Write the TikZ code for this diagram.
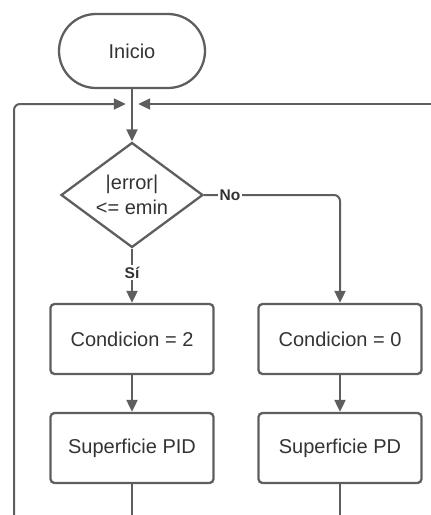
\documentclass[tikz,border=0pt]{standalone}
\usepackage{fontspec}
\setmainfont{Liberation Sans}
\usepackage{xcolor}
\usetikzlibrary{shapes.geometric, arrows.meta, positioning}
\definecolor{flowgray}{HTML}{5E5E5E}
\definecolor{textdark}{HTML}{333333}

\begin{document}
\begin{tikzpicture}[
    x=1pt, y=-1pt,
    every node/.style={font=\fontsize{20}{25}\selectfont, text=textdark},
    startbox/.style={
        rectangle,
        rounded corners=37pt,
        draw=flowgray,
        line width=2.3pt,
        minimum width=146pt,
        minimum height=74pt
    },
    box/.style={
        rectangle,
        rounded corners=4pt,
        draw=flowgray,
        line width=2.3pt,
        minimum width=163pt,
        minimum height=70pt,
        text centered
    },
    decision/.style={
        diamond,
        aspect=1.35,
        inner sep=0pt,
        draw=flowgray,
        line width=2.3pt,
        minimum width=142pt,
        minimum height=105pt,
        align=center
    },
    flow/.style={
        -{Triangle[length=12pt, width=11pt]},
        line width=2pt,
        draw=flowgray,
        rounded corners=6pt
    },
    plain/.style={
        line width=2pt,
        draw=flowgray
    },
    mylabel/.style={
        font=\fontsize{15.5}{17}\selectfont\bfseries,
        fill=white,
        inner sep=1.5pt
    }
]
\useasboundingbox (0,0) rectangle (431,515);

% Start and decision
\node[startbox] (inicio) at (132,51) {Inicio};
\node[decision] (cond) at (132,195) {|error|\\<= emin};
\node[minimum size=12pt, inner sep=0pt] (junc) at (132,104) {};

% Branch boxes
\node[box] (cdos) at (132,339) {Condicion = 2};
\node[box] (ccero) at (340,339) {Condicion = 0};
\node[box] (pid) at (132,448) {Superficie PID};
\node[box] (pd) at (340,448) {Superficie PD};

% Loose ends at the picture border
\coordinate (loopl) at (14,515);
\coordinate (loopr) at (431,104);
\coordinate (endl) at (132,515);
\coordinate (endr) at (340,515);

% Arrows - main flow
\draw[flow] (inicio) -- (cond);
\draw[flow] (cond.south) -- node[mylabel, pos=0.44] {Sí} (cdos);
\draw[flow] (cond.east) -| node[mylabel, pos=0.095] {No} (ccero);
\draw[flow] (cdos) -- (pid);
\draw[flow] (ccero) -- (pd);

% Loop back
\draw[flow] (loopl) |- (junc.west);
\draw[flow] (loopr) -- (junc.east);
\draw[plain] (pid) -- (endl);
\draw[plain] (pd) -- (endr);

\end{tikzpicture}
\end{document}
